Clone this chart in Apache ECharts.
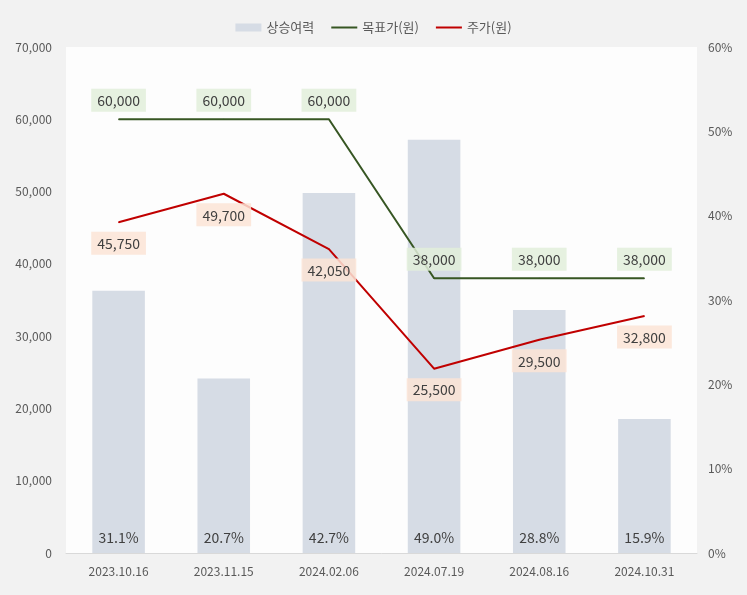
<!DOCTYPE html>
<html><head><meta charset="utf-8">
<script src="https://cdn.jsdelivr.net/npm/echarts@6/dist/echarts.min.js"></script>
<style>html,body{margin:0;padding:0;background:#f2f2f2}#c{width:747px;height:595px}</style>
</head><body><div id="c"></div>
<script>
const categories = ['2023.10.16','2023.11.15','2024.02.06','2024.07.19','2024.08.16','2024.10.31'];
const upside = [31.1, 20.7, 42.7, 49.0, 28.8, 15.9];
const targetPrice = [60000, 60000, 60000, 38000, 38000, 38000];
const stockPrice = [45750, 49700, 42050, 25500, 29500, 32800];
const leftTicks = {min:0, max:70000, interval:10000};
const rightTicks = {min:0, max:60, interval:10};

const FONT = '"Noto Sans CJK KR", "Noto Sans", sans-serif';
const fmt = v => v.toLocaleString('en-US');
const lineIcon = 'path://M0,0H26V2H0Z';
const chart = echarts.init(document.getElementById('c'));
chart.setOption({
  backgroundColor: '#f2f2f2',
  animation: false,
  textStyle: {fontFamily: FONT},
  legend: {
    top: 16, left: 'center', itemGap: 17, itemWidth: 26, itemHeight: 8,
    textStyle: {fontSize: 13, color: '#595959', fontFamily: FONT},
    data: [{name:'상승여력', icon:'rect'}, {name:'목표가(원)', icon: lineIcon}, {name:'주가(원)', icon: lineIcon}]
  },
  grid: {left: 66, right: 50, top: 47, bottom: 42, show: true, backgroundColor: '#fdfdfd', borderWidth: 0},
  xAxis: {
    type: 'category', data: categories,
    axisLine: {lineStyle: {color: '#d9d9d9', width: 1}},
    axisTick: {show: false},
    axisLabel: {color: '#595959', fontSize: 12, margin: 12, fontFamily: FONT}
  },
  yAxis: [
    {type: 'value', min: leftTicks.min, max: leftTicks.max, interval: leftTicks.interval,
     splitLine: {show: false}, axisLine: {show: false}, axisTick: {show: false},
     axisLabel: {color: '#595959', fontSize: 12, margin: 14, formatter: v => fmt(v), fontFamily: FONT}},
    {type: 'value', min: rightTicks.min, max: rightTicks.max, interval: rightTicks.interval,
     splitLine: {show: false}, axisLine: {show: false}, axisTick: {show: false},
     axisLabel: {color: '#595959', fontSize: 12, margin: 11, formatter: v => v + '%', fontFamily: FONT}}
  ],
  series: [
    {name: '상승여력', type: 'bar', yAxisIndex: 1, data: upside, barWidth: '50%',
     itemStyle: {color: '#d6dce5'},
     label: {show: true, position: 'insideBottom', distance: 8, color: '#404040', fontSize: 14,
             formatter: p => p.value.toFixed(1) + '%', fontFamily: FONT}},
    {name: '목표가(원)', type: 'line', yAxisIndex: 0, data: targetPrice, symbol: 'circle', symbolSize: 1, showSymbol: true, z: 3,
     lineStyle: {color: '#375623', width: 2}, itemStyle: {color: '#375623'},
     label: {show: true, position: 'top', distance: 7, color: '#404040', fontSize: 14,
             backgroundColor: 'rgba(226,239,218,0.85)', padding: [5, 6, 4, 6],
             formatter: p => fmt(p.value), fontFamily: FONT}},
    {name: '주가(원)', type: 'line', yAxisIndex: 0, data: stockPrice, symbol: 'circle', symbolSize: 1, showSymbol: true, z: 3,
     lineStyle: {color: '#c00000', width: 2}, itemStyle: {color: '#c00000'},
     label: {show: true, position: 'bottom', distance: 9, color: '#404040', fontSize: 14,
             backgroundColor: 'rgba(252,228,214,0.85)', padding: [5, 6, 4, 6],
             formatter: p => fmt(p.value), fontFamily: FONT}}
  ]
});
</script></body></html>
